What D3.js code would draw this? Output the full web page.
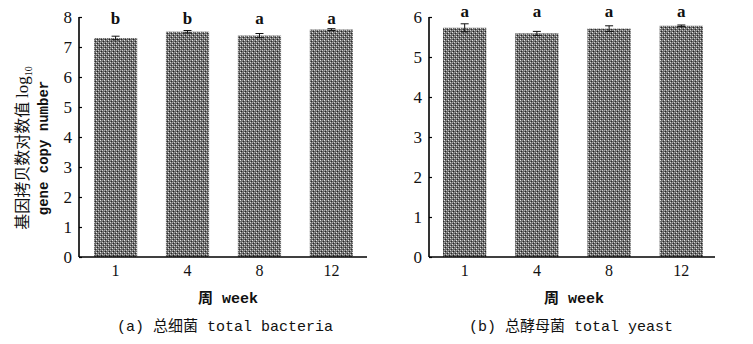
<!DOCTYPE html>
<html>
<head>
<meta charset="utf-8">
<script src="https://cdn.jsdelivr.net/npm/d3@7"></script>
<style>
  body { margin: 0; background: #fff; }
  svg text { fill: #111; }
</style>
</head>
<body>
<div id="vis"></div>
<script>
// data
const weeks = ["1", "4", "8", "12"];
const bacteriaMean = [7.30, 7.51, 7.38, 7.58];
const bacteriaErr = [0.06, 0.04, 0.07, 0.03];
const bacteriaLetters = ["b", "b", "a", "a"];
const yeastMean = [5.73, 5.59, 5.71, 5.78];
const yeastErr = [0.10, 0.05, 0.07, 0.02];
const yeastLetters = ["a", "a", "a", "a"];
const bacteriaTicks = [0, 1, 2, 3, 4, 5, 6, 7, 8];
const yeastTicks = [0, 1, 2, 3, 4, 5, 6];

const W = 753, H = 344;
const serif = "'Liberation Serif', 'DejaVu Serif', serif";
const mono = "'Liberation Mono', 'Noto Sans CJK SC', monospace";
const cjk = "'Noto Sans CJK SC', 'Liberation Serif', sans-serif";

const svg = d3.select("#vis").append("svg")
  .attr("width", W).attr("height", H)
  .attr("font-family", serif);

// dotted fill like the print
const defs = svg.append("defs");
const pat = defs.append("pattern")
  .attr("id", "dots").attr("patternUnits", "userSpaceOnUse")
  .attr("width", 4).attr("height", 4);
pat.append("rect").attr("width", 4).attr("height", 4).attr("fill", "#6a6a6a");
[[0, 0, "#e6e6e6"], [2, 2, "#d0d0d0"], [1, 3, "#222"], [3, 1, "#2a2a2a"], [2, 0, "#9a9a9a"], [0, 2, "#a8a8a8"]]
  .forEach(([px, py, c]) => pat.append("rect")
    .attr("x", px).attr("y", py).attr("width", 1).attr("height", 1).attr("fill", c));

function panel({ range, axisX, axisEnd, yMax, ticks, means, errs, letters, caption, letterY, cx }) {
  const top = 17, bottom = 257;
  const x = d3.scaleBand().domain(weeks).range(range).paddingInner(0.4).paddingOuter(0);
  const y = d3.scaleLinear().domain([0, yMax]).range([bottom, top]);
  const g = svg.append("g");

  g.selectAll("rect.bar").data(weeks).join("rect")
    .attr("class", "bar")
    .attr("x", d => x(d)).attr("width", x.bandwidth())
    .attr("y", (d, i) => y(means[i]))
    .attr("height", (d, i) => bottom - y(means[i]))
    .attr("fill", "url(#dots)");

  // error bars
  const mid = d => x(d) + x.bandwidth() / 2;
  const eb = g.selectAll("g.err").data(weeks).join("g")
    .attr("class", "err")
    .attr("stroke", "#111").attr("stroke-width", 1);
  eb.append("line")
    .attr("x1", mid).attr("x2", mid)
    .attr("y1", (d, i) => y(means[i] + errs[i])).attr("y2", (d, i) => y(means[i] - errs[i]));
  eb.append("line")
    .attr("x1", d => mid(d) - 4).attr("x2", d => mid(d) + 4)
    .attr("y1", (d, i) => y(means[i] + errs[i])).attr("y2", (d, i) => y(means[i] + errs[i]));
  eb.append("line")
    .attr("x1", d => mid(d) - 4).attr("x2", d => mid(d) + 4)
    .attr("y1", (d, i) => y(means[i] - errs[i])).attr("y2", (d, i) => y(means[i] - errs[i]));

  // significance letters
  g.selectAll("text.sig").data(weeks).join("text")
    .attr("class", "sig")
    .attr("x", mid)
    .attr("y", letterY)
    .attr("text-anchor", "middle")
    .attr("font-size", 17).attr("font-weight", "bold")
    .text((d, i) => letters[i]);

  // y axis
  const ya = g.append("g")
    .attr("transform", `translate(${axisX},0)`)
    .call(d3.axisRight(y).tickValues(ticks).tickSize(3).tickFormat(d3.format("d")));
  ya.select(".domain").attr("stroke-width", 1.6).attr("d", `M0,${top}V${bottom}`);
  ya.selectAll(".tick line").attr("stroke-width", 1.2);
  ya.selectAll(".tick text")
    .attr("x", -7).attr("text-anchor", "end")
    .attr("font-size", 17).attr("font-family", serif);

  // x axis
  const xa = g.append("g")
    .attr("transform", `translate(0,${bottom})`)
    .call(d3.axisBottom(x).tickSize(0));
  xa.select(".domain").attr("stroke-width", 1.6).attr("d", `M${axisX},0H${axisEnd}`);
  xa.selectAll(".tick text")
    .attr("y", 8).attr("font-size", 16).attr("font-family", serif);

  g.append("text")
    .attr("x", cx).attr("y", 303)
    .attr("text-anchor", "middle")
    .attr("font-family", mono).attr("font-size", 15).attr("font-weight", "bold")
    .text("周 week");
  g.append("text")
    .attr("x", cx - 3).attr("y", 331)
    .attr("text-anchor", "middle")
    .attr("font-family", mono).attr("font-size", 15)
    .text(caption);
}

panel({
  range: [94, 353], axisX: 79, axisEnd: 367, yMax: 8, ticks: bacteriaTicks,
  means: bacteriaMean, errs: bacteriaErr, letters: bacteriaLetters,
  caption: "(a) 总细菌 total bacteria", letterY: 24, cx: 228
});
panel({
  range: [443, 703], axisX: 429, axisEnd: 715, yMax: 6, ticks: yeastTicks,
  means: yeastMean, errs: yeastErr, letters: yeastLetters,
  caption: "(b) 总酵母菌 total yeast", letterY: 17, cx: 574
});

// y axis title, two lines rotated
const yt = svg.append("text")
  .attr("transform", "translate(28,148) rotate(-90)")
  .attr("text-anchor", "middle")
  .attr("font-family", cjk).attr("font-size", 16);
yt.append("tspan").text("基因拷贝数对数值 ");
yt.append("tspan").attr("font-family", serif).attr("font-size", 17).text("log");
yt.append("tspan").attr("font-family", serif).attr("font-size", 10).attr("dy", 4).text("10");
svg.append("text")
  .attr("transform", "translate(48,148) rotate(-90)")
  .attr("text-anchor", "middle")
  .attr("font-family", mono).attr("font-size", 14).attr("font-weight", "bold")
  .text("gene copy number");
</script>
</body>
</html>
